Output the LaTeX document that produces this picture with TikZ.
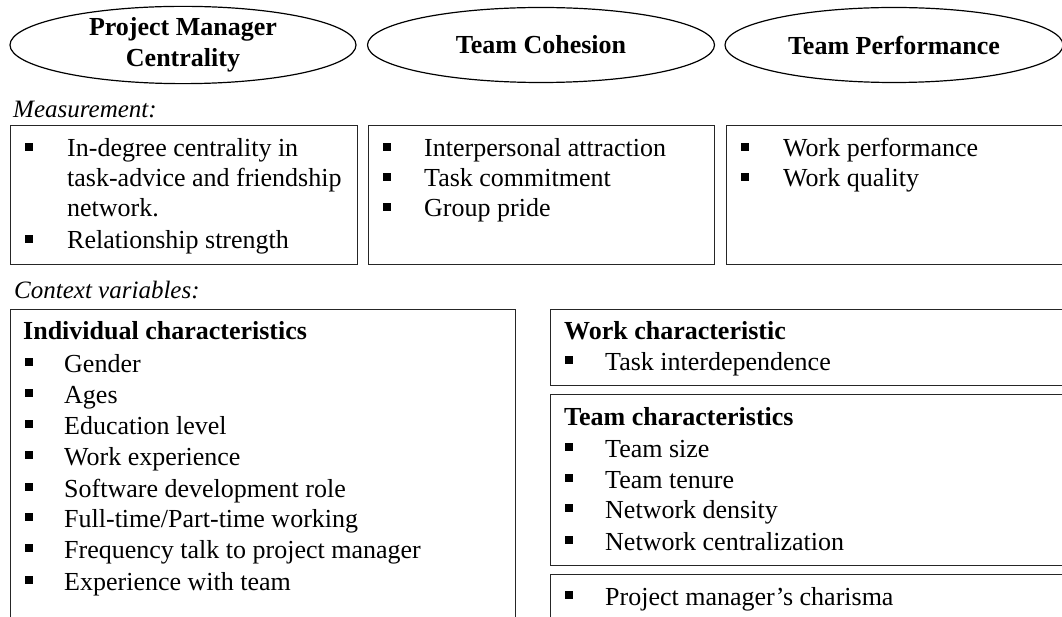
\documentclass[tikz,border=0pt]{standalone}
\usepackage{fontspec}
\setmainfont{Liberation Serif}
\usetikzlibrary{shapes.geometric}
\tikzset{
  txt/.style={anchor=base west, inner sep=0pt, font=\fontsize{26}{30}\selectfont},
  hdr/.style={txt, font=\fontsize{26}{30}\selectfont\bfseries},
  lbl/.style={txt, font=\fontsize{25}{30}\selectfont\itshape},
  oval/.style={draw, line width=1.2pt, ellipse, inner sep=0pt, align=center,
    font=\fontsize{26}{31}\selectfont\bfseries},
  frame/.style={draw=black!85, line width=1.2pt, rectangle, inner sep=0pt, anchor=north west},
  bul/.style={fill=black, rectangle, inner sep=0pt, minimum size=8pt, anchor=north west}
}
\newcommand{\itm}[5]{\node[bul] (#1b) at (#2,#4-14) {}; \node[txt] (#1) at (#3,#4) {#5};}
\begin{document}
\begin{tikzpicture}[x=1pt,y=-1pt]
\useasboundingbox (0,0) rectangle (1062,617);
\clip (0,0) rectangle (1062,617);
% ellipses
\node[oval, minimum width=346pt, minimum height=75pt] (pmc) at (183,45) {Project Manager\\Centrality};
\node[oval, minimum width=347pt, minimum height=75pt] (tc) at (541,45) {Team Cohesion};
\node[oval, minimum width=338pt, minimum height=75pt] (tp) at (894,45) {Team Performance};
% measurement
\node[lbl] (meas) at (13,118) {Measurement:};
\node[frame, minimum width=347pt, minimum height=139pt] (m1) at (10,125) {};
\node[frame, minimum width=346pt, minimum height=139pt] (m2) at (368,125) {};
\node[frame, minimum width=344pt, minimum height=139pt] (m3) at (726,125) {};
\itm{a1}{25}{67}{157}{In-degree centrality in}
\node[txt] (a1x) at (67,187) {task-advice and friendship};
\node[txt] (a1y) at (67,217) {network.};
\itm{a2}{25}{67}{249}{Relationship strength}
\itm{b1}{383}{424}{157}{Interpersonal attraction}
\itm{b2}{383}{424}{187}{Task commitment}
\itm{b3}{383}{424}{217}{Group pride}
\itm{c1}{741}{783}{157}{Work performance}
\itm{c2}{741}{783}{187}{Work quality}
% context
\node[lbl] (ctx) at (14,299) {Context variables:};
\node[frame, minimum width=505pt, minimum height=330pt] (ind) at (10,309) {};
\node[frame, minimum width=520pt, minimum height=76pt] (work) at (550,309) {};
\node[frame, minimum width=520pt, minimum height=171pt] (team) at (550,394) {};
\node[frame, minimum width=520pt, minimum height=60pt] (pm) at (550,574) {};
\node[hdr] (indh) at (23,340) {Individual characteristics};
\itm{d1}{25}{64}{372}{Gender}
\itm{d2}{25}{64}{403}{Ages}
\itm{d3}{25}{64}{434}{Education level}
\itm{d4}{25}{64}{465}{Work experience}
\itm{d5}{25}{64}{497}{Software development role}
\itm{d6}{25}{64}{527}{Full-time/Part-time working}
\itm{d7}{25}{64}{558}{Frequency talk to project manager}
\itm{d8}{25}{64}{590}{Experience with team}
\node[hdr] (workh) at (564,340) {Work characteristic};
\itm{e1}{565}{605}{370}{Task interdependence}
\node[hdr] (teamh) at (564,425) {Team characteristics};
\itm{f1}{565}{605}{457}{Team size}
\itm{f2}{565}{605}{488}{Team tenure}
\itm{f3}{565}{605}{518}{Network density}
\itm{f4}{565}{605}{550}{Network centralization}
\itm{g1}{565}{605}{605}{Project manager’s charisma}
\end{tikzpicture}
\end{document}
